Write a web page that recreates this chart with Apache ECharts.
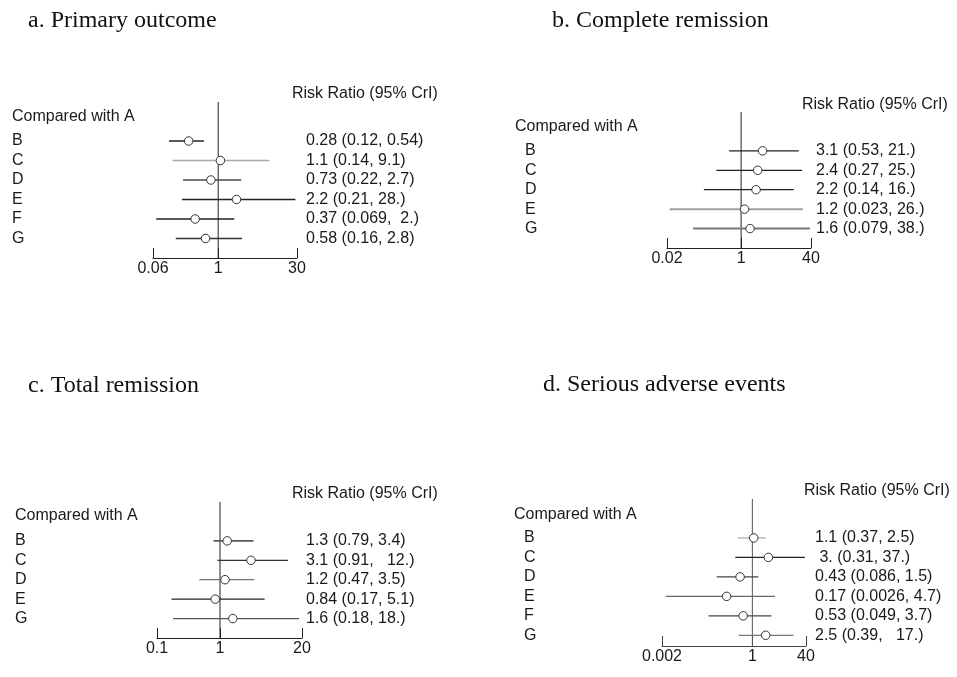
<!DOCTYPE html>
<html>
<head>
<meta charset="utf-8">
<title>Forest plots</title>
<script src="https://cdn.jsdelivr.net/npm/echarts@6.0.0/dist/echarts.min.js"></script>
<style>
  html, body { margin: 0; padding: 0; background: #fff; }
  #main { width: 957px; height: 677px; }
</style>
</head>
<body>
<div id="main"></div>
<script>
// a. Primary outcome
var aRows = ['B', 'C', 'D', 'E', 'F', 'G'];
var aEst = [0.28, 1.1, 0.73, 2.2, 0.37, 0.58];
var aLow = [0.12, 0.14, 0.22, 0.21, 0.069, 0.16];
var aHigh = [0.54, 9.1, 2.7, 28, 2, 2.8];
var aText = ['0.28 (0.12, 0.54)', '1.1 (0.14, 9.1)', '0.73 (0.22, 2.7)', '2.2 (0.21, 28.)', '0.37 (0.069,  2.)', '0.58 (0.16, 2.8)'];
var aTicks = [0.06, 1, 30];

// b. Complete remission
var bRows = ['B', 'C', 'D', 'E', 'G'];
var bEst = [3.1, 2.4, 2.2, 1.2, 1.6];
var bLow = [0.53, 0.27, 0.14, 0.023, 0.079];
var bHigh = [21, 25, 16, 26, 38];
var bText = ['3.1 (0.53, 21.)', '2.4 (0.27, 25.)', '2.2 (0.14, 16.)', '1.2 (0.023, 26.)', '1.6 (0.079, 38.)'];
var bTicks = [0.02, 1, 40];

// c. Total remission
var cRows = ['B', 'C', 'D', 'E', 'G'];
var cEst = [1.3, 3.1, 1.2, 0.84, 1.6];
var cLow = [0.79, 0.91, 0.47, 0.17, 0.18];
var cHigh = [3.4, 12, 3.5, 5.1, 18];
var cText = ['1.3 (0.79, 3.4)', '3.1 (0.91,   12.)', '1.2 (0.47, 3.5)', '0.84 (0.17, 5.1)', '1.6 (0.18, 18.)'];
var cTicks = [0.1, 1, 20];

// d. Serious adverse events
var dRows = ['B', 'C', 'D', 'E', 'F', 'G'];
var dEst = [1.1, 3, 0.43, 0.17, 0.53, 2.5];
var dLow = [0.37, 0.31, 0.086, 0.0026, 0.049, 0.39];
var dHigh = [2.5, 37, 1.5, 4.7, 3.7, 17];
var dText = ['1.1 (0.37, 2.5)', ' 3. (0.31, 37.)', '0.43 (0.086, 1.5)', '0.17 (0.0026, 4.7)', '0.53 (0.049, 3.7)', '2.5 (0.39,   17.)'];
var dTicks = [0.002, 1, 40];

var SANS = '"Liberation Sans", Arial, sans-serif';
var SERIF = '"Liberation Serif", "Times New Roman", serif';
var INK = '#1a1a1a';

var panels = [
  {
    title: 'a. Primary outcome', titleX: 28, titleY: 21,
    rows: aRows, est: aEst, low: aLow, high: aHigh, text: aText, ticks: aTicks,
    grid: {left: 153, top: 102, width: 144, height: 156}, yMin: -2, yMax: 6,
    textGap: 9, rrX: 292, rrY: 94, cwX: 12, cwY: 117,
    axisColor: '#222', refColor: '#222',
    lineColors: ['#222', '#a8a8a8', '#4a4a4a', '#222', '#222', '#333'],
    lineWidths: [1.3, 1.5, 1.3, 1.3, 1.3, 1.3]
  },
  {
    title: 'b. Complete remission', titleX: 552, titleY: 21,
    rows: bRows, est: bEst, low: bLow, high: bHigh, text: bText, ticks: bTicks,
    grid: {left: 667, top: 112, width: 144, height: 136}, yMin: -2, yMax: 5,
    textGap: 5, rrX: 802, rrY: 105, cwX: 515, cwY: 127,
    axisColor: '#222', refColor: '#222',
    lineColors: ['#222', '#222', '#222', '#a0a0a0', '#787878'],
    lineWidths: [1.3, 1.3, 1.3, 2, 2]
  },
  {
    title: 'c. Total remission', titleX: 28, titleY: 386,
    rows: cRows, est: cEst, low: cLow, high: cHigh, text: cText, ticks: cTicks,
    grid: {left: 157, top: 502, width: 145, height: 136}, yMin: -2, yMax: 5,
    textGap: 4, rrX: 292, rrY: 494, cwX: 15, cwY: 516,
    axisColor: '#222', refColor: '#222',
    lineColors: ['#5a5a5a', '#333', '#777', '#222', '#555'],
    lineWidths: [1.6, 1.3, 1.3, 1.3, 1.3]
  },
  {
    title: 'd. Serious adverse events', titleX: 543, titleY: 385,
    rows: dRows, est: dEst, low: dLow, high: dHigh, text: dText, ticks: dTicks,
    grid: {left: 662, top: 499, width: 144, height: 147}, yMin: -2, yMax: 5.55,
    textGap: 9, rrX: 804, rrY: 491, cwX: 514, cwY: 515,
    axisColor: '#444', refColor: '#555',
    lineColors: ['#b0b0b0', '#222', '#444', '#666', '#444', '#777'],
    lineWidths: [1.3, 1.3, 1.3, 1.3, 1.3, 1.3]
  }
];

function tickText(v) {
  return String(+Number(v).toPrecision(6));
}

var option = {
  animation: false,
  backgroundColor: '#fff',
  grid: [],
  xAxis: [],
  yAxis: [],
  series: [],
  graphic: []
};

panels.forEach(function (p, k) {
  var idx = p.rows.map(function (r, i) { return i; });

  option.grid.push({
    left: p.grid.left, top: p.grid.top, width: p.grid.width, height: p.grid.height,
    containLabel: false, outerBoundsMode: 'none'
  });

  option.xAxis.push({
    gridIndex: k,
    type: 'log',
    logBase: 10,
    min: p.ticks[0],
    max: p.ticks[p.ticks.length - 1],
    position: 'bottom',
    axisLine: {show: true, onZero: false, lineStyle: {color: p.axisColor, width: 1}},
    axisTick: {show: true, inside: true, length: 10, customValues: p.ticks, lineStyle: {color: p.axisColor, width: 1}},
    axisLabel: {customValues: p.ticks, formatter: tickText, margin: 3, color: INK, fontSize: 16, fontFamily: SANS},
    splitLine: {show: false},
    minorTick: {show: false}
  });

  // row letters on the left
  option.yAxis.push({
    gridIndex: k,
    type: 'value',
    inverse: true,
    min: p.yMin,
    max: p.yMax,
    position: 'left',
    axisLine: {show: false, onZero: false},
    axisTick: {show: false},
    splitLine: {show: false},
    axisLabel: {
      customValues: idx,
      formatter: function (v) { return p.rows[Math.round(v)]; },
      align: 'left', margin: p.grid.left - p.cwX - (k % 2 ? 10 : 0),
      color: INK, fontSize: 16, fontFamily: SANS
    }
  });

  // estimate text on the right
  option.yAxis.push({
    gridIndex: k,
    type: 'value',
    inverse: true,
    min: p.yMin,
    max: p.yMax,
    position: 'right',
    axisLine: {show: false, onZero: false},
    axisTick: {show: false},
    splitLine: {show: false},
    axisLabel: {
      customValues: idx,
      formatter: function (v) { return p.text[Math.round(v)]; },
      align: 'left', margin: p.textGap,
      color: INK, fontSize: 16, fontFamily: SANS
    }
  });

  // line of no effect
  option.series.push({
    type: 'line',
    xAxisIndex: k,
    yAxisIndex: 2 * k,
    data: [[1, p.yMin], [1, p.yMax]],
    symbol: 'none',
    silent: true,
    lineStyle: {color: p.refColor, width: 1},
    z: 1
  });

  // credible intervals
  option.series.push({
    type: 'custom',
    xAxisIndex: k,
    yAxisIndex: 2 * k,
    data: p.rows.map(function (r, i) { return [p.low[i], p.high[i], i]; }),
    encode: {x: [0, 1], y: 2},
    silent: true,
    z: 2,
    renderItem: function (params, api) {
      var s = api.coord([api.value(0), api.value(2)]);
      var e = api.coord([api.value(1), api.value(2)]);
      return {
        type: 'line',
        shape: {x1: s[0], y1: s[1], x2: e[0], y2: e[1]},
        style: {stroke: p.lineColors[params.dataIndex], lineWidth: p.lineWidths[params.dataIndex]}
      };
    }
  });

  // point estimates
  option.series.push({
    type: 'scatter',
    xAxisIndex: k,
    yAxisIndex: 2 * k,
    data: p.est.map(function (v, i) { return [v, i]; }),
    symbol: 'circle',
    symbolSize: 8.5,
    silent: true,
    itemStyle: {color: '#fff', borderColor: '#333', borderWidth: 1, opacity: 1},
    z: 3
  });

  option.graphic.push({
    type: 'text', x: p.titleX, y: p.titleY, silent: true,
    style: {text: p.title, fill: '#111', fontSize: 24, fontFamily: SERIF, verticalAlign: 'middle'}
  });
  option.graphic.push({
    type: 'text', x: p.rrX, y: p.rrY, silent: true,
    style: {text: 'Risk Ratio (95% CrI)', fill: INK, fontSize: 16, fontFamily: SANS, verticalAlign: 'middle'}
  });
  option.graphic.push({
    type: 'text', x: p.cwX, y: p.cwY, silent: true,
    style: {text: 'Compared with A', fill: INK, fontSize: 16, fontFamily: SANS, verticalAlign: 'middle'}
  });
});

var myChart = echarts.init(document.getElementById('main'));
myChart.setOption(option);
</script>
</body>
</html>
